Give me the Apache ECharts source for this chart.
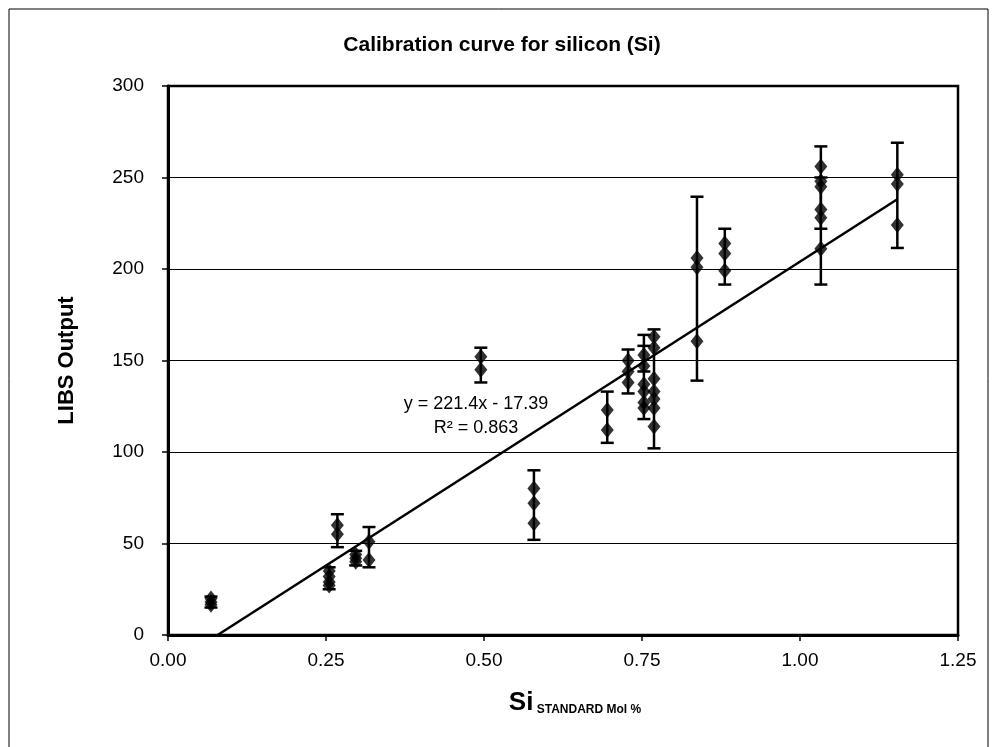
<!DOCTYPE html>
<html>
<head>
<meta charset="utf-8">
<style>
  html, body { margin: 0; padding: 0; background: #fff; }
  #chart { width: 994px; height: 747px; }
</style>
<script src="https://cdn.jsdelivr.net/npm/echarts@6/dist/echarts.min.js"></script>
</head>
<body>
<div id="chart"></div>
<script>
// Si standard concentration (mol %) for each sample group
const siMol = [0.068, 0.255, 0.268, 0.297, 0.318, 0.495, 0.579, 0.695, 0.728, 0.753, 0.769, 0.837, 0.881, 1.033, 1.154];
// LIBS readings per group
const libsOutput = [
  [20, 18, 16.5],
  [35, 32, 29, 27],
  [60, 55],
  [44, 42, 40],
  [51, 41],
  [152, 145],
  [80, 72, 61],
  [123, 112],
  [150, 144, 138],
  [153, 147, 137, 133, 127, 124],
  [163, 157, 140, 133, 129, 124, 114],
  [206, 201, 160.5],
  [214, 208.5, 199],
  [256, 248, 245, 232.5, 228, 211],
  [251.5, 246.5, 224]
];
// error bars (x, low, high)
const errX = [0.068, 0.255, 0.268, 0.297, 0.318, 0.495, 0.579, 0.695, 0.728, 0.753, 0.769, 0.837, 0.881, 1.033, 1.154, 1.033, 0.753];
const errLow = [15, 25, 48, 38, 37, 138, 52, 105, 132, 118, 102, 139, 191.5, 191.5, 211.5, 222, 144];
const errHigh = [21, 37, 66, 46, 59, 157, 90, 133, 156, 164, 167, 239.5, 222, 267, 269, 250, 158];

// linear fit shown on chart
const slope = 221.4;
const intercept = -17.39;
const rSquared = 0.863;

const points = [];
siMol.forEach((x, i) => {
  libsOutput[i].forEach(y => points.push([x, y]));
});
const errData = errX.map((x, i) => [x, errLow[i], errHigh[i]]);
const xStart = -intercept / slope;
const xEnd = siMol[siMol.length - 1];
const trend = [[xStart, 0], [xEnd, slope * xEnd + intercept]];

const FONT = 'Liberation Sans, Arial, sans-serif';

const chart = echarts.init(document.getElementById('chart'), null, { renderer: 'canvas' });

chart.setOption({
  animation: false,
  backgroundColor: '#fff',
  title: {
    text: 'Calibration curve for silicon (Si)',
    left: 497,
    top: 30,
    textAlign: 'center',
    textStyle: { fontFamily: FONT, fontWeight: 'bold', fontSize: 21, color: '#000' }
  },
  grid: {
    left: 168, right: 36, top: 86, bottom: 112,
    show: true, borderColor: '#000', borderWidth: 2.5, backgroundColor: 'transparent'
  },
  xAxis: {
    type: 'value',
    min: 0, max: 1.25, interval: 0.25,
    axisLine: { onZero: false, lineStyle: { color: '#000', width: 3 } },
    axisTick: { show: true, length: 6, lineStyle: { color: '#000', width: 1.5 } },
    axisLabel: {
      margin: 16, color: '#000', fontFamily: FONT, fontSize: 19,
      formatter: v => v.toFixed(2)
    },
    splitLine: { show: false }
  },
  yAxis: {
    type: 'value',
    min: 0, max: 300, interval: 50,
    axisLine: { show: true, lineStyle: { color: '#000', width: 3 } },
    axisTick: { show: true, length: 6, lineStyle: { color: '#000', width: 1.5 } },
    axisLabel: { margin: 24, color: '#000', fontFamily: FONT, fontSize: 19 },
    splitLine: { show: true, lineStyle: { color: '#000', width: 1 } },
    name: 'LIBS Output',
    nameLocation: 'middle',
    nameGap: 90,
    nameTextStyle: { fontFamily: FONT, fontWeight: 'bold', fontSize: 22, color: '#000' }
  },
  graphic: [
    {
      type: 'rect',
      shape: { x: 9, y: 9, width: 979, height: 780 },
      style: { fill: 'none', stroke: '#000', lineWidth: 1 },
      silent: true
    },
    {
      type: 'text',
      position: [476, 392],
      style: {
        text: 'y = ' + slope + 'x - ' + Math.abs(intercept) + '\nR² = ' + rSquared,
        x: 0, y: 0,
        textAlign: 'center',
        font: '18px ' + FONT,
        lineHeight: 24,
        fill: '#000'
      }
    },
    {
      type: 'text',
      position: [575, 690],
      style: {
        text: '{big|Si} {sub|STANDARD Mol %}',
        x: 0, y: 0,
        textAlign: 'center',
        rich: {
          big: { font: 'bold 26px ' + FONT, fill: '#000', verticalAlign: 'bottom' },
          sub: { font: 'bold 12px ' + FONT, fill: '#000', verticalAlign: 'bottom' }
        }
      }
    }
  ],
  series: [
    {
      type: 'line',
      data: trend,
      symbol: 'none',
      lineStyle: { color: '#000', width: 2.5 },
      z: 2
    },
    {
      type: 'custom',
      data: errData,
      z: 3,
      renderItem: (params, api) => {
        const top = api.coord([api.value(0), api.value(2)]);
        const bot = api.coord([api.value(0), api.value(1)]);
        const cap = 6.5;
        const style = { stroke: '#000', lineWidth: 2.5 };
        return {
          type: 'group',
          children: [
            { type: 'line', shape: { x1: top[0], y1: top[1], x2: bot[0], y2: bot[1] }, style },
            { type: 'line', shape: { x1: top[0] - cap, y1: top[1], x2: top[0] + cap, y2: top[1] }, style },
            { type: 'line', shape: { x1: bot[0] - cap, y1: bot[1], x2: bot[0] + cap, y2: bot[1] }, style }
          ]
        };
      }
    },
    {
      type: 'scatter',
      data: points,
      symbol: 'diamond',
      symbolSize: [13, 16],
      itemStyle: { color: '#000' },
      z: 4
    }
  ]
});
</script>
</body>
</html>
